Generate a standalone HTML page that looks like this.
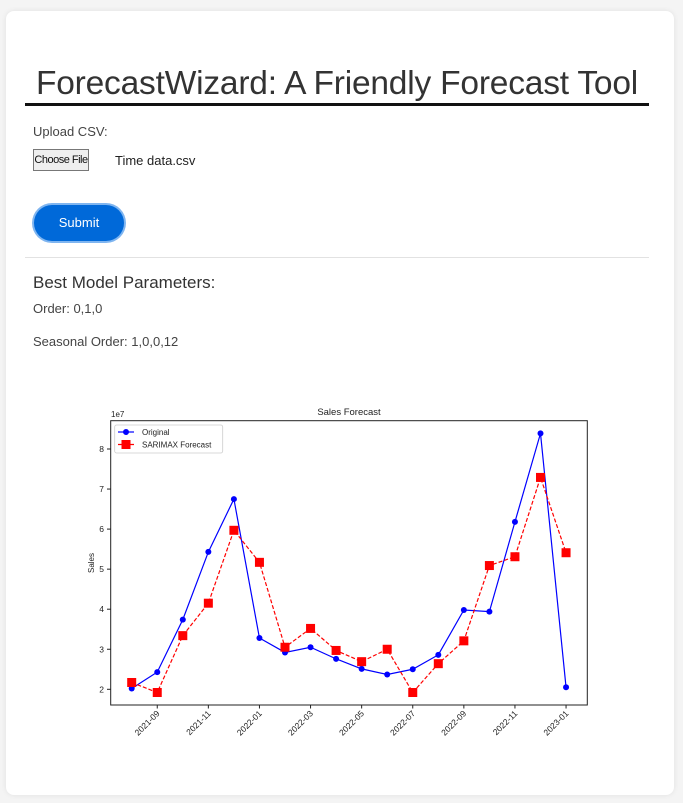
<!DOCTYPE html>
<html><head><meta charset="utf-8"><style>
body{margin:0;background:#f4f4f4;font-family:"Liberation Sans",sans-serif;color:#333;width:683px;height:803px;overflow:hidden}
.card{position:absolute;left:6px;top:11px;width:668px;height:784px;background:#fff;border-radius:8px;box-shadow:0 0 6px rgba(0,0,0,0.08)}
h1{position:absolute;left:19px;top:54px;width:624px;margin:0;font-size:33.5px;font-weight:normal;text-align:center;border-bottom:3px solid #111;line-height:38px;padding-bottom:0;color:#333;white-space:nowrap;letter-spacing:-0.2px}
.t{position:absolute;left:27px;font-size:13px;color:#444;white-space:nowrap}
.fb{position:absolute;left:27px;top:138px;width:56px;padding:0;box-sizing:border-box;height:22px;border:1px solid #777;background:#efefef;font-size:11px;letter-spacing:-0.5px;line-height:20px;text-align:center;color:#111;white-space:nowrap;overflow:hidden}
.sub{position:absolute;left:28px;top:194px;width:90px;height:36px;border-radius:18px;background:#0069d9;box-shadow:0 0 0 2px #7fb5f0;color:#fff;font-size:13px;text-align:center;line-height:36px}
hr{position:absolute;left:19px;top:246px;width:624px;margin:0;border:0;border-top:1px solid #e2e2e2}
svg{position:absolute;left:0;top:0}
</style></head><body>
<div class="card">
<h1>ForecastWizard: A Friendly Forecast Tool</h1>
<div class="t" style="top:113px">Upload CSV:</div>
<div class="fb">Choose File</div>
<div class="t" style="top:142px;left:109px;color:#222">Time data.csv</div>
<div class="sub">Submit</div>
<hr>
<div class="t" style="top:262px;font-size:17px;color:#333">Best Model Parameters:</div>
<div class="t" style="top:290px">Order: 0,1,0</div>
<div class="t" style="top:323px">Seasonal Order: 1,0,0,12</div>
</div>
<svg id="chart" width="683" height="803"></svg>
<script>
const months=["2021-08","2021-09","2021-10","2021-11","2021-12","2022-01","2022-02","2022-03","2022-04","2022-05","2022-06","2022-07","2022-08","2022-09","2022-10","2022-11","2022-12","2023-01"];
const original=[2.02,2.43,3.74,5.43,6.75,3.28,2.92,3.05,2.76,2.51,2.37,2.50,2.86,3.98,3.94,6.18,8.39,2.05];
const forecast=[2.17,1.92,3.34,4.15,5.97,5.17,3.05,3.52,2.97,2.69,3.00,1.92,2.64,3.21,5.09,5.31,7.29,5.41];
const yTicks=[2,3,4,5,6,7,8];
const xTicks=["2021-09","2021-11","2022-01","2022-03","2022-05","2022-07","2022-09","2022-11","2023-01"];
const NS="http://www.w3.org/2000/svg",svg=document.getElementById('chart');
const X=i=>131.7+i*25.55, Y=v=>689.3-(v-2)*40.05;
function el(t,a,p){const e=document.createElementNS(NS,t);for(const k in a)e.setAttribute(k,a[k]);(p||svg).appendChild(e);return e;}
let f=el('rect',{x:110.7,y:420.7,width:476.6,height:284.3,fill:'none',stroke:'#222','stroke-width':1});


yTicks.forEach(v=>{el('line',{x1:107,x2:110.7,y1:Y(v),y2:Y(v),stroke:'#222'});
 let t=el('text',{x:104,y:Y(v)+3,'font-size':8.5,'text-anchor':'end',fill:'#222'});t.textContent=v;
 
 });
xTicks.forEach(m=>{const x=X(months.indexOf(m));el('line',{x1:x,x2:x,y1:705,y2:708.5,stroke:'#222'});
 let t=el('text',{x:x+3,y:714,'font-size':8.5,'text-anchor':'end',fill:'#222',transform:`rotate(-45 ${x+3} 714)`});t.textContent=m;
 
 });
let tt=el('text',{x:349,y:415,'font-size':9.5,'text-anchor':'middle',fill:'#222'});tt.textContent='Sales Forecast';


let e7=el('text',{x:111,y:417,'font-size':8,fill:'#222'});e7.textContent='1e7';


let yl=el('text',{x:94,y:563,'font-size':8,'text-anchor':'middle',fill:'#222',transform:'rotate(-90 94 563)'});yl.textContent='Sales';


let l1=el('polyline',{points:original.map((v,i)=>X(i)+','+Y(v)).join(' '),fill:'none',stroke:'#0000ff','stroke-width':1.2});


let l2=el('polyline',{points:forecast.map((v,i)=>X(i)+','+Y(v)).join(' '),fill:'none',stroke:'#ff0000','stroke-width':1.2,'stroke-dasharray':'4,2'});


original.forEach((v,i)=>{let c=el('circle',{cx:X(i),cy:Y(v),r:3,fill:'#0000ff'});
 
 });
forecast.forEach((v,i)=>{let r=el('rect',{x:X(i)-4.5,y:Y(v)-4.5,width:9,height:9,fill:'#ff0000'});
 
 });
let lg=el('rect',{x:114.7,y:425,width:108,height:28,fill:'#fff',stroke:'#ccc','stroke-width':0.8,rx:2});


el('line',{x1:118,x2:134,y1:432,y2:432,stroke:'#0000ff','stroke-width':1.2});
el('circle',{cx:126,cy:432,r:3,fill:'#0000ff'});
let a=el('text',{x:142,y:435,'font-size':8,fill:'#222'});a.textContent='Original';


el('line',{x1:118,x2:134,y1:444.5,y2:444.5,stroke:'#ff0000','stroke-width':1.2,'stroke-dasharray':'4,2'});
el('rect',{x:121.5,y:440,width:9,height:9,fill:'#ff0000'});
let b=el('text',{x:142,y:447.5,'font-size':8,fill:'#222'});b.textContent='SARIMAX Forecast';


</script>
</body></html>
